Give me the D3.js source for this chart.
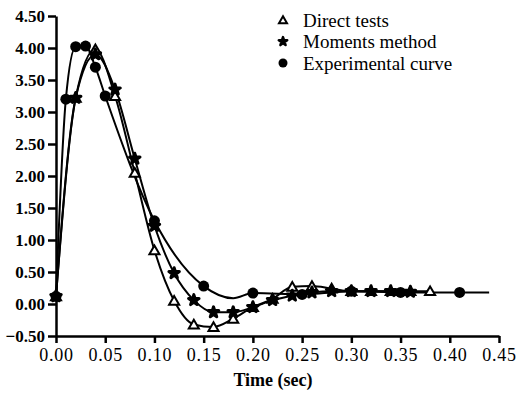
<!DOCTYPE html>
<html>
<head>
<meta charset="utf-8">
<script src="https://cdn.jsdelivr.net/npm/d3@7"></script>
<style>
  body { margin: 0; background: #fff; }
  svg text { font-family: "Liberation Serif", "Times New Roman", serif; }
</style>
</head>
<body>
<div id="chart"></div>
<script>
// values
const directT = [0, 0.02, 0.04, 0.06, 0.08, 0.10, 0.12, 0.14, 0.16, 0.18, 0.20, 0.22, 0.24, 0.26, 0.28, 0.30, 0.32, 0.34, 0.36, 0.38];
const directV = [0.12, 3.22, 3.98, 3.25, 2.05, 0.84, 0.05, -0.32, -0.36, -0.23, -0.05, 0.08, 0.27, 0.28, 0.24, 0.2, 0.2, 0.2, 0.2, 0.2];

const momentsT = [0, 0.02, 0.04, 0.06, 0.08, 0.10, 0.12, 0.14, 0.16, 0.18, 0.20, 0.22, 0.24, 0.26, 0.28, 0.30, 0.32, 0.34, 0.36];
const momentsV = [0.12, 3.22, 3.9, 3.35, 2.27, 1.22, 0.48, 0.06, -0.13, -0.13, -0.05, 0.06, 0.13, 0.18, 0.2, 0.2, 0.2, 0.2, 0.19];

const expT = [0, 0.01, 0.02, 0.03, 0.04, 0.05, 0.10, 0.15, 0.18, 0.20, 0.25, 0.30, 0.35, 0.41, 0.44];
const expV = [0.12, 3.2, 4.02, 4.03, 3.7, 3.25, 1.3, 0.28, 0.09, 0.17, 0.15, 0.2, 0.18, 0.18, 0.18];
const expMarked = [1, 1, 1, 1, 1, 1, 1, 1, 0, 1, 1, 1, 1, 1, 0];

const xTicks = [0, 0.05, 0.10, 0.15, 0.20, 0.25, 0.30, 0.35, 0.40, 0.45];
const yTicks = [-0.5, 0, 0.5, 1, 1.5, 2, 2.5, 3, 3.5, 4, 4.5];

const legendLabels = ['Direct tests', 'Moments method', 'Experimental curve'];

const width = 516, height = 394;
const margin = { top: 16, right: 17, bottom: 58, left: 56 };

const svg = d3.select('#chart').append('svg')
  .attr('width', width)
  .attr('height', height);

const x = d3.scaleLinear().domain([0, 0.45]).range([margin.left, width - margin.right]);
const y = d3.scaleLinear().domain([-0.5, 4.5]).range([height - margin.bottom, margin.top]);

// axes
const xAxis = svg.append('g')
  .attr('transform', `translate(0,${height - margin.bottom})`)
  .call(d3.axisBottom(x).tickValues(xTicks).tickFormat(d3.format('.2f')).tickSize(7).tickSizeOuter(0));
const yAxis = svg.append('g')
  .attr('transform', `translate(${margin.left},0)`)
  .call(d3.axisLeft(y).tickValues(yTicks).tickFormat(d3.format('.2f')).tickSize(8).tickSizeOuter(0));

[xAxis, yAxis].forEach(a => {
  a.select('.domain').attr('stroke', '#000').attr('stroke-width', 2.5);
  a.selectAll('.tick line').attr('stroke', '#000').attr('stroke-width', 2.5);
  a.selectAll('.tick text').attr('fill', '#000');
});
xAxis.selectAll('.tick text')
  .attr('dy', '0.85em')
  .style('font-size', '18px')
  .style('letter-spacing', '0.8px');
yAxis.selectAll('.tick text')
  .attr('x', -11)
  .style('font-size', '17px')
  .style('font-weight', 'bold');

svg.append('text')
  .attr('x', 273)
  .attr('y', 386)
  .attr('text-anchor', 'middle')
  .style('font-size', '18px')
  .style('font-weight', 'bold')
  .text('Time (sec)');

// lines
const line = d3.line()
  .x(d => x(d[0]))
  .y(d => y(d[1]))
  .curve(d3.curveMonotoneX);

const series = [
  { t: directT, v: directV },
  { t: momentsT, v: momentsV },
  { t: expT, v: expV }
];

series.forEach(s => {
  svg.append('path')
    .datum(d3.zip(s.t, s.v))
    .attr('fill', 'none')
    .attr('stroke', '#000')
    .attr('stroke-width', 2)
    .attr('d', line);
});

// markers
const triangle = d3.symbol().type(d3.symbolTriangle).size(44);
const star = d3.symbol().type(d3.symbolStar).size(34);

svg.append('g').selectAll('path')
  .data(d3.zip(directT, directV))
  .join('path')
  .attr('transform', d => `translate(${x(d[0])},${y(d[1]) + 1})`)
  .attr('d', triangle)
  .attr('fill', '#fff')
  .attr('stroke', '#000')
  .attr('stroke-width', 2);

svg.append('g').selectAll('path')
  .data(d3.zip(momentsT, momentsV))
  .join('path')
  .attr('transform', d => `translate(${x(d[0])},${y(d[1])})`)
  .attr('d', star)
  .attr('fill', '#000')
  .attr('stroke', '#000')
  .attr('stroke-width', 3)
  .attr('stroke-linejoin', 'round');

svg.append('g').selectAll('circle')
  .data(d3.zip(expT, expV).filter((d, i) => expMarked[i]))
  .join('circle')
  .attr('cx', d => x(d[0]))
  .attr('cy', d => y(d[1]))
  .attr('r', 5.5)
  .attr('fill', '#000');

// legend
const legend = svg.append('g').attr('transform', 'translate(283,20)');
legendLabels.forEach((label, i) => {
  const g = legend.append('g').attr('transform', `translate(0,${i * 21.5})`);
  if (i === 0) {
    g.append('path').attr('d', d3.symbol().type(d3.symbolTriangle).size(28))
      .attr('transform', 'translate(0,1)')
      .attr('fill', '#fff').attr('stroke', '#000').attr('stroke-width', 2);
  } else if (i === 1) {
    g.append('path').attr('d', d3.symbol().type(d3.symbolStar).size(22))
      .attr('fill', '#000').attr('stroke', '#000').attr('stroke-width', 2.5)
      .attr('stroke-linejoin', 'round');
  } else {
    g.append('circle').attr('r', 4.5).attr('fill', '#000');
  }
  g.append('text')
    .attr('x', 20)
    .attr('y', 0)
    .attr('dy', '0.35em')
    .style('font-size', '19px')
    .text(label);
});
</script>
</body>
</html>
